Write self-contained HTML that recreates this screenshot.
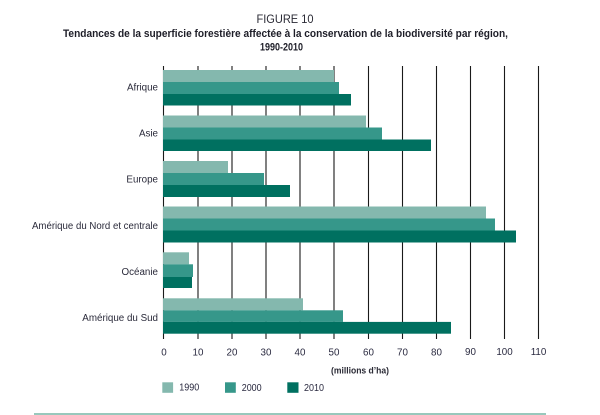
<!DOCTYPE html>
<html>
<head>
<meta charset="utf-8">
<style>
  html,body{margin:0;padding:0;background:#fff;}
  svg{display:block;}
  text{font-family:"Liberation Sans", sans-serif;}
</style>
</head>
<body>
<svg width="600" height="415" viewBox="0 0 600 415" xmlns="http://www.w3.org/2000/svg">
  <rect width="600" height="415" fill="#fff"/>
  <!-- Title -->
  <text x="285" y="23" text-anchor="middle" font-size="11.5" fill="#2a2a35" textLength="57" lengthAdjust="spacingAndGlyphs">FIGURE 10</text>
  <text x="285.5" y="37" text-anchor="middle" font-size="11.3" font-weight="bold" fill="#1e1e28" textLength="445" lengthAdjust="spacingAndGlyphs">Tendances de la superficie forestière affectée à la conservation de la biodiversité par région,</text>
  <text x="281.5" y="50.5" text-anchor="middle" font-size="11.3" font-weight="bold" fill="#1e1e28" textLength="43" lengthAdjust="spacingAndGlyphs">1990-2010</text>

  <!-- Gridlines -->
  <g stroke="#1a1a1a" stroke-width="1.1">
    <line x1="163.5" y1="66" x2="163.5" y2="339"/>
    <line x1="198" y1="66" x2="198" y2="339"/>
    <line x1="232" y1="66" x2="232" y2="339"/>
    <line x1="266" y1="66" x2="266" y2="339"/>
    <line x1="300" y1="66" x2="300" y2="339"/>
    <line x1="334" y1="66" x2="334" y2="339"/>
    <line x1="368.5" y1="66" x2="368.5" y2="339"/>
    <line x1="402.5" y1="66" x2="402.5" y2="339"/>
    <line x1="436.5" y1="66" x2="436.5" y2="339"/>
    <line x1="470.5" y1="66" x2="470.5" y2="339"/>
    <line x1="504.5" y1="66" x2="504.5" y2="339"/>
    <line x1="538.5" y1="66" x2="538.5" y2="339"/>
  </g>

  <!-- Bars -->
  <g>
    <!-- Afrique -->
    <rect x="163" y="70" width="171" height="12" fill="#84b8ae"/>
    <rect x="163" y="82" width="176" height="12" fill="#36978a"/>
    <rect x="163" y="94" width="188" height="11.5" fill="#007060"/>
    <!-- Asie -->
    <rect x="163" y="115.5" width="203" height="12" fill="#84b8ae"/>
    <rect x="163" y="127.5" width="219" height="12" fill="#36978a"/>
    <rect x="163" y="139.5" width="268" height="11.5" fill="#007060"/>
    <!-- Europe -->
    <rect x="163" y="161" width="65" height="12" fill="#84b8ae"/>
    <rect x="163" y="173" width="101" height="12" fill="#36978a"/>
    <rect x="163" y="185" width="127" height="12" fill="#007060"/>
    <!-- Amérique du Nord -->
    <rect x="163" y="206.5" width="323" height="12" fill="#84b8ae"/>
    <rect x="163" y="218.5" width="332" height="12" fill="#36978a"/>
    <rect x="163" y="230.5" width="353" height="12" fill="#007060"/>
    <!-- Océanie -->
    <rect x="163" y="252.3" width="26" height="12" fill="#84b8ae"/>
    <rect x="163" y="264.3" width="30" height="12.7" fill="#36978a"/>
    <rect x="163" y="277" width="29" height="11" fill="#007060"/>
    <!-- Amérique du Sud -->
    <rect x="163" y="298.3" width="140" height="12" fill="#84b8ae"/>
    <rect x="163" y="310.3" width="180" height="11.6" fill="#36978a"/>
    <rect x="163" y="321.9" width="288" height="11.8" fill="#007060"/>
  </g>

  <!-- Category labels -->
  <g font-size="9.8" fill="#2a2a3a" text-anchor="end">
    <text x="158" y="90.7">Afrique</text>
    <text x="158" y="136.7">Asie</text>
    <text x="158" y="182.7">Europe</text>
    <text x="158" y="229" textLength="126" lengthAdjust="spacingAndGlyphs">Amérique du Nord et centrale</text>
    <text x="158" y="275">Océanie</text>
    <text x="158" y="321">Amérique du Sud</text>
  </g>

  <!-- Tick labels -->
  <g font-size="9.8" fill="#2a2a40" text-anchor="middle">
    <text x="164" y="355.5">0</text>
    <text x="198" y="355.5">10</text>
    <text x="232" y="355.5">20</text>
    <text x="266" y="355.5">30</text>
    <text x="300" y="355.5">40</text>
    <text x="334" y="355.5">50</text>
    <text x="368.5" y="355.5">60</text>
    <text x="402.5" y="355.5">70</text>
    <text x="436.5" y="355.5">80</text>
    <text x="470.5" y="355">90</text>
    <text x="504.5" y="355">100</text>
    <text x="538.5" y="355">110</text>
  </g>

  <text x="360" y="373.5" text-anchor="middle" font-size="9.2" font-weight="bold" fill="#2a2a35" textLength="58" lengthAdjust="spacingAndGlyphs">(millions d’ha)</text>

  <!-- Legend -->
  <rect x="162.3" y="382.3" width="10.8" height="10.5" fill="#84b8ae"/>
  <text x="179.3" y="390.5" font-size="9.8" fill="#2a2a40" textLength="20" lengthAdjust="spacingAndGlyphs">1990</text>
  <rect x="225" y="382.3" width="10.8" height="10.5" fill="#36978a"/>
  <text x="241.7" y="391" font-size="9.8" fill="#2a2a40" textLength="20" lengthAdjust="spacingAndGlyphs">2000</text>
  <rect x="287.3" y="382.3" width="11.2" height="10.5" fill="#007060"/>
  <text x="304" y="391" font-size="9.8" fill="#2a2a40" textLength="20" lengthAdjust="spacingAndGlyphs">2010</text>

  <!-- Bottom rule -->
  <rect x="34" y="413" width="512" height="2" fill="#98c8bc"/>
</svg>
</body>
</html>
